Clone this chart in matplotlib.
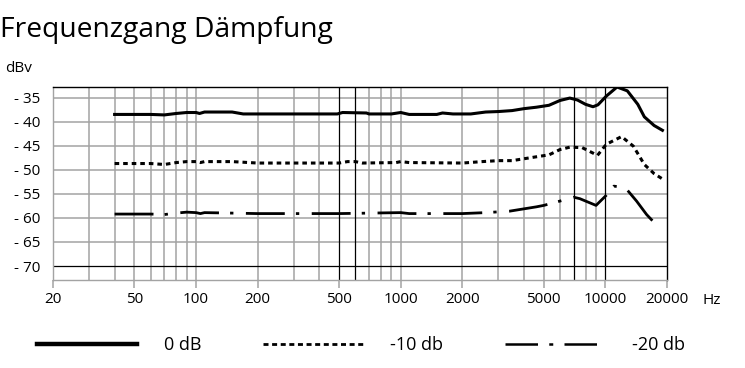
import matplotlib.pyplot as plt
from matplotlib.lines import Line2D

plt.rcParams["font.family"] = ["Open Sans", "DejaVu Sans"]

# curve data (Hz, dBv)
freq_0db = [40, 50, 60, 70, 80, 90, 100, 104, 110, 150, 170, 300, 490, 520, 680, 700,
            900, 1000, 1100, 1500, 1600, 1800, 2200, 2600, 3000, 3500, 4000, 4600, 5300,
            6000, 6700, 7300, 8000, 8700, 9200, 10100, 11400, 12800, 14400, 15500, 17300, 19000]
level_0db = [-38.5, -38.5, -38.5, -38.6, -38.3, -38.1, -38.1, -38.3, -38.0, -38.0, -38.4, -38.4,
             -38.4, -38.1, -38.2, -38.4, -38.4, -38.1, -38.5, -38.5, -38.2, -38.4, -38.4, -38.0,
             -37.9, -37.7, -37.3, -37.0, -36.6, -35.6, -35.1, -35.5, -36.4, -36.9, -36.5, -34.7,
             -32.8, -33.6, -36.4, -39.0, -40.8, -41.8]

freq_10db = [40, 60, 70, 80, 90, 100, 105, 110, 150, 200, 500, 550, 600, 650, 950, 1000, 1100,
             2000, 2500, 3000, 3500, 4600, 5300, 6000, 6700, 7700, 9150, 10100, 12000, 13700,
             15500, 17300, 19000]
level_10db = [-48.7, -48.7, -48.9, -48.5, -48.3, -48.3, -48.5, -48.3, -48.3, -48.6, -48.6, -48.3,
              -48.3, -48.6, -48.5, -48.3, -48.5, -48.6, -48.3, -48.1, -48.1, -47.3, -46.9, -45.8,
              -45.3, -45.4, -47.0, -44.7, -43.1, -45.1, -48.9, -50.8, -51.9]

freq_20db = [40, 50, 60, 70, 80, 90, 100, 105, 110, 150, 200, 500, 1000, 1100, 2000, 2600, 3400,
             4600, 5000, 6000, 7000, 7500, 9000, 10100, 11000, 12500, 14200, 15900, 17800, 18700]
level_20db = [-59.2, -59.2, -59.2, -59.3, -59.0, -58.8, -58.9, -59.1, -58.9, -59.0, -59.1, -59.1,
              -58.9, -59.1, -59.1, -58.9, -58.6, -57.7, -57.4, -56.5, -55.7, -56.0, -57.4, -55.3,
              -53.4, -53.7, -56.5, -59.3, -61.5, -61.8]

x_ticks = [20, 50, 100, 200, 500, 1000, 2000, 5000, 10000, 20000]
y_ticks = [-35, -40, -45, -50, -55, -60, -65, -70]
gray_freqs = [30, 40, 50, 60, 70, 80, 90, 100, 200, 300, 400, 700, 800, 900,
              1000, 2000, 3000, 4000, 5000, 6000, 8000, 9000]
black_freqs = [500, 600, 7000, 10000]
legend_labels = ["0 dB", "-10 db", "-20 db"]

GRAY = "#a3a3a3"

fig = plt.figure(figsize=(7.45, 3.68), dpi=100)
ax = fig.add_axes([53 / 745, 1 - 280 / 368, 614 / 745, 193 / 368])
ax.set_xscale("log")
ax.set_xlim(20, 20000)
ax.set_ylim(-72.9, -32.8)

for f in gray_freqs:
  ax.axvline(f, color=GRAY, lw=1.1, zorder=1)
for f in black_freqs:
  ax.axvline(f, color="black", lw=0.9, zorder=1.5)
for y in y_ticks:
  ax.axhline(y, color="black" if y == -70 else GRAY, lw=0.9 if y == -70 else 1.1, zorder=1)

ax.spines["top"].set_color("black")
ax.spines["right"].set_color("black")
ax.spines["left"].set_color(GRAY)
ax.spines["bottom"].set_color(GRAY)
for s in ax.spines.values():
  s.set_linewidth(1.0)

ax.plot(freq_0db, level_0db, color="black", lw=2.2, zorder=3)
ax.plot(freq_10db, level_10db, color="black", lw=2.2, linestyle=(0, (1.5, 1.3)), zorder=3)
ax.plot(freq_20db, level_20db, color="black", lw=2.0, linestyle=(0, (14, 4, 1.2, 4.5)), zorder=3)

ax.xaxis.set_minor_locator(plt.NullLocator())
ax.set_xticks(x_ticks)
ax.set_xticklabels([str(t) for t in x_ticks])
ax.tick_params(axis="x", length=5.5, width=1.1, color=GRAY, pad=3, labelsize=11)
for tick, f in zip(ax.xaxis.get_major_ticks(), x_ticks):
  if f in (500, 10000, 20000):
    tick.tick1line.set_color("black")

ax.set_yticks(y_ticks)
ax.set_yticklabels([f"- {abs(t)}" for t in y_ticks])
ax.tick_params(axis="y", length=0, pad=9, labelsize=11)

fig.text(0.0, 1 - 37 / 368, "Frequenzgang Dämpfung", fontsize=20.3, va="baseline", ha="left")
fig.text(5 / 745, 1 - 68 / 368, "dBv", fontsize=11, va="center", ha="left")
fig.text(703 / 745, 1 - 300 / 368, "Hz", fontsize=11, va="center", ha="left")

handles = [
  Line2D([], [], color="black", lw=3.2),
  Line2D([], [], color="black", lw=2.0, linestyle=(0, (1.8, 1.3))),
  Line2D([], [], color="black", lw=1.8, linestyle=(0, (13, 4.5, 1.6, 4.5))),
]
fig.legend(handles, legend_labels, loc="center left", bbox_to_anchor=(21 / 745, 1 - 345 / 368),
           ncol=3, frameon=False, handlelength=5.5, handletextpad=1.5,
           columnspacing=3.45, prop={"size": 13})

fig.savefig("out.png", dpi=100)
